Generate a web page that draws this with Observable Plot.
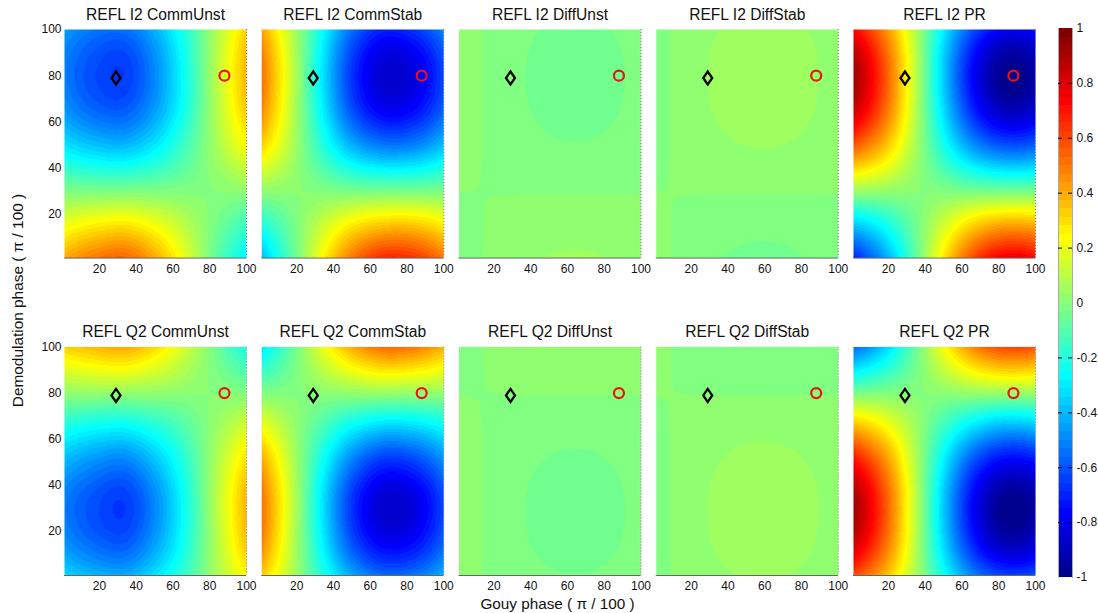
<!DOCTYPE html>
<html>
<head>
<meta charset="utf-8">
<script src="https://cdn.jsdelivr.net/npm/d3@7"></script>
<script src="https://cdn.jsdelivr.net/npm/@observablehq/plot@0.6"></script>
<style>
html,body{margin:0;padding:0;background:#fff}
#chart{position:relative;width:1098px;height:613px;overflow:hidden}
#chart svg{position:absolute;left:0;top:0}
</style>
</head>
<body>
<div id="chart"></div>
<script>
const gouyNodes = [1, 17.5, 34, 50.5, 67, 83.5, 100];
const demodNodes = [100, 83.5, 67, 50.5, 34, 17.5, 1];
const columns = ["CommUnst", "CommStab", "DiffUnst", "DiffStab", "PR"];
const rowNames = ["I2", "Q2"];
const axisTicks = [20, 40, 60, 80, 100];
const barTicks = [-1, -0.8, -0.6, -0.4, -0.2, 0, 0.2, 0.4, 0.6, 0.8, 1];
const barDashes = [-0.8, -0.6, -0.4, -0.2, 0.2, 0.4, 0.6, 0.8];
const diamondPoint = [[29, 79]];
const circlePoint = [[88, 80]];

const i2CommUnst = [
-.45,-.53,-.54,-.41,-.19,.07,.32,
-.52,-.62,-.65,-.49,-.23,.09,.38,
-.48,-.58,-.60,-.46,-.22,.08,.35,
-.32,-.39,-.41,-.31,-.14,.06,.24,
-.08,-.10,-.10,-.08,-.04,.01,.06,
.17,.22,.24,.18,.08,-.03,-.13,
.40,.50,.54,.40,.18,-.08,-.29];
const i2CommStab = [
.41,.09,-.25,-.55,-.70,-.66,-.50,
.51,.12,-.31,-.67,-.85,-.82,-.62,
.48,.11,-.29,-.63,-.80,-.77,-.58,
.33,.08,-.20,-.43,-.54,-.52,-.39,
.08,.02,-.05,-.11,-.13,-.13,-.10,
-.18,-.04,.11,.23,.29,.29,.22,
-.40,-.09,.24,.51,.66,.64,.50];
const i2DiffUnst = [
.0145,-.0044,-.0221,-.0341,-.0373,-.0306,-.0161,
.0182,-.0054,-.0276,-.0427,-.0466,-.0383,-.0201,
.0171,-.0051,-.0260,-.0401,-.0438,-.0360,-.0189,
.0115,-.0036,-.0177,-.0273,-.0298,-.0245,-.0129,
.0027,-.0011,-.0047,-.0071,-.0078,-.0064,-.0035,
-.0068,.0015,.0094,.0147,.0161,.0131,.0067,
-.0147,.0037,.0210,.0327,.0357,.0293,.0151];
const i2DiffStab = [
-.0101,.0114,.0299,.0407,.0409,.0304,.0120,
-.0128,.0142,.0374,.0509,.0512,.0380,.0150,
-.0120,.0133,.0352,.0478,.0481,.0357,.0141,
-.0080,.0091,.0239,.0325,.0327,.0243,.0096,
-.0018,.0025,.0063,.0085,.0085,.0064,.0027,
.0049,-.0046,-.0128,-.0176,-.0177,-.0130,-.0049,
.0105,-.0105,-.0286,-.0390,-.0393,-.0290,-.0111];
const i2PR = [
.73,.47,.10,-.30,-.62,-.78,-.73,
.91,.59,.13,-.38,-.78,-.98,-.92,
.86,.56,.12,-.35,-.73,-.92,-.86,
.58,.38,.08,-.24,-.50,-.62,-.59,
.15,.10,.02,-.06,-.13,-.16,-.15,
-.32,-.21,-.05,.13,.28,.35,.33,
-.71,-.46,-.10,.29,.61,.76,.72];
const q2CommUnst = [
.32,.37,.40,.30,.14,-.05,-.23,
.07,.09,.09,.07,.03,-.01,-.05,
-.19,-.23,-.24,-.18,-.09,.03,.14,
-.40,-.48,-.51,-.38,-.18,.07,.30,
-.52,-.61,-.65,-.49,-.23,.09,.38,
-.49,-.58,-.61,-.46,-.22,.08,.36,
-.33,-.40,-.42,-.31,-.15,.06,.24];
const q2CommStab = [
-.32,-.07,.19,.40,.52,.50,.38,
-.07,-.02,.04,.09,.12,.11,.09,
.19,.04,-.11,-.24,-.31,-.30,-.23,
.41,.09,-.24,-.52,-.67,-.64,-.48,
.51,.12,-.31,-.67,-.85,-.82,-.62,
.49,.11,-.29,-.63,-.80,-.77,-.58,
.33,.08,-.20,-.43,-.55,-.53,-.40];
const q2DiffUnst = [
-.0117,.0029,.0165,.0258,.0282,.0231,.0119,
-.0029,.0004,.0036,.0057,.0063,.0051,.0025,
.0066,-.0022,-.0105,-.0161,-.0176,-.0145,-.0077,
.0143,-.0044,-.0218,-.0337,-.0368,-.0303,-.0159,
.0182,-.0054,-.0276,-.0427,-.0466,-.0383,-.0201,
.0173,-.0052,-.0262,-.0405,-.0443,-.0364,-.0191,
.0117,-.0036,-.0180,-.0277,-.0303,-.0249,-.0131];
const q2DiffStab = [
.0084,-.0082,-.0226,-.0287,-.0289,-.0229,-.0087,
.0021,-.0017,-.0050,-.0069,-.0069,-.0050,-.0018,
-.0046,.0055,.0142,.0192,.0193,.0144,.0058,
-.0100,.0112,.0296,.0402,.0404,.0300,.0118,
-.0128,.0142,.0374,.0509,.0512,.0380,.0150,
-.0121,.0135,.0356,.0483,.0486,.0361,.0142,
-.0081,.0093,.0243,.0330,.0332,.0247,.0098];
const q2PR = [
-.56,-.37,-.08,.23,.48,.60,.57,
-.13,-.08,-.02,.05,.11,.14,.13,
.34,.22,.05,-.14,-.29,-.37,-.34,
.72,.47,.10,-.30,-.62,-.77,-.73,
.91,.59,.13,-.38,-.78,-.98,-.92,
.86,.56,.12,-.36,-.74,-.93,-.87,
.59,.38,.08,-.24,-.51,-.63,-.60];

const panels = [
  ["I2","CommUnst",i2CommUnst],["I2","CommStab",i2CommStab],["I2","DiffUnst",i2DiffUnst],["I2","DiffStab",i2DiffStab],["I2","PR",i2PR],
  ["Q2","CommUnst",q2CommUnst],["Q2","CommStab",q2CommStab],["Q2","DiffUnst",q2DiffUnst],["Q2","DiffStab",q2DiffStab],["Q2","PR",q2PR]
];
const samples = panels.flatMap(([row, col, vals]) =>
  vals.map((v, k) => ({row, col, gouy: gouyNodes[k % 7], demod: demodNodes[Math.floor(k / 7)], v})));
const titles = panels.map(([row, col]) => ({row, col, label: `REFL ${row} ${col}`}));

// MATLAB jet(64) palette
const jet = d3.range(1, 65).map(k => {
  const c = t => Math.round(255 * Math.max(0, Math.min(1, t)));
  const r = c(Math.min((k - 24) / 16, (72 - k) / 16 + 0));
  const g = c(Math.min((k - 8) / 16, (56 - k) / 16));
  const b = c(Math.min((k + 8) / 16, (40 - k) / 16));
  return `rgb(${r},${g},${b})`;
});
const colorScale = {type: "quantize", domain: [-1, 1], range: jet};

// Smooth (Catmull-Rom) rendering of the sampled grid onto the raster
function smoothGrid(index, w, h, X, Y, V) {
  const idx = Array.from(index);
  const xs = [...new Set(idx.map(i => X[i]))].sort((a, b) => a - b);
  const ys = [...new Set(idx.map(i => Y[i]))].sort((a, b) => a - b);
  const nx = xs.length, ny = ys.length;
  const g = d3.range(ny + 2).map(() => new Float64Array(nx + 2));
  for (const i of idx) g[ys.indexOf(Y[i]) + 1][xs.indexOf(X[i]) + 1] = V[i];
  for (let j = 1; j <= ny; ++j) {
    g[j][0] = 3 * g[j][1] - 3 * g[j][2] + g[j][3];
    g[j][nx + 1] = 3 * g[j][nx] - 3 * g[j][nx - 1] + g[j][nx - 2];
  }
  for (let i = 0; i < nx + 2; ++i) {
    g[0][i] = 3 * g[1][i] - 3 * g[2][i] + g[3][i];
    g[ny + 1][i] = 3 * g[ny][i] - 3 * g[ny - 1][i] + g[ny - 2][i];
  }
  const weights = t => [
    0.5 * (-t + 2 * t * t - t * t * t),
    0.5 * (2 - 5 * t * t + 3 * t * t * t),
    0.5 * (t + 4 * t * t - 3 * t * t * t),
    0.5 * (-t * t + t * t * t)
  ];
  const W = new Array(w * h);
  const dx = (xs[nx - 1] - xs[0]) / (nx - 1), dy = (ys[ny - 1] - ys[0]) / (ny - 1);
  for (let py = 0; py < h; ++py) {
    const v = Math.max(0, Math.min(ny - 1 - 1e-9, (py + 0.5 - ys[0]) / dy));
    const j = Math.floor(v), wy = weights(v - j);
    for (let px = 0; px < w; ++px) {
      const u = Math.max(0, Math.min(nx - 1 - 1e-9, (px + 0.5 - xs[0]) / dx));
      const i = Math.floor(u), wx = weights(u - i);
      let s = 0;
      for (let b = 0; b < 4; ++b) for (let a = 0; a < 4; ++a) s += wy[b] * wx[a] * g[j + b][i + a];
      W[py * w + px] = s;
    }
  }
  return W;
}

const diamond = {draw(ctx) {
  ctx.moveTo(0, -6.5); ctx.lineTo(4.5, 0); ctx.lineTo(0, 6.5); ctx.lineTo(-4.5, 0); ctx.closePath();
}};
const font = "'Liberation Sans', Arial, sans-serif";

const main = Plot.plot({
  width: 1098, height: 613,
  marginLeft: 64, marginRight: 63, marginTop: 29, marginBottom: 38,
  style: {fontFamily: font, background: "#fff", color: "#111"},
  x: {domain: [1, 100], axis: null},
  y: {domain: [1, 100], axis: null},
  fx: {domain: columns, axis: null, padding: 0.0773, round: false},
  fy: {domain: rowNames, axis: null, padding: 0.28, round: false},
  color: colorScale,
  marks: [
    Plot.raster(samples, {x: "gouy", y: "demod", fill: "v", fx: "col", fy: "row", interpolate: smoothGrid, pixelSize: 1}),
    Plot.ruleY([1], {stroke: "#666", strokeWidth: 1}),
    Plot.ruleX([100], {stroke: "#777", strokeDasharray: "1,2"}),
    Plot.dot(diamondPoint, {x: d => d[0], y: d => d[1], symbol: diamond, stroke: "#000", strokeWidth: 2.3, fill: "none"}),
    Plot.dot(circlePoint, {x: d => d[0], y: d => d[1], r: 5, stroke: "#ee1111", strokeWidth: 2.2, fill: "none"}),
    Plot.axisX({ticks: axisTicks, tickSize: 0, tickPadding: 6, label: null, fontSize: 12, facetAnchor: null, anchor: "bottom"}),
    Plot.axisY({ticks: axisTicks, tickSize: 0, tickPadding: 3, label: null, fontSize: 12, anchor: "left"}),
    Plot.text(titles, {text: "label", fx: "col", fy: "row", frameAnchor: "top", dy: -21, fontSize: 15.6, fill: "#111"}),
    Plot.text(["Gouy phase ( π / 100 )"], {facet: "super", frameAnchor: "bottom", dx: 7.5, dy: 33, fontSize: 15.3, fill: "#111"}),
    Plot.text(["Demodulation phase ( π / 100 )"], {facet: "super", frameAnchor: "left", textAnchor: "middle", dx: -46, dy: -2, rotate: -90, fontSize: 15.4, fill: "#111"})
  ]
});

const barLevels = jet.map((_, k) => ({lo: -1 + k / 32, hi: -1 + (k + 1) / 32, mid: -1 + (k + 0.5) / 32}));
const bar = Plot.plot({
  width: 1098, height: 613,
  marginLeft: 1058, marginRight: 26, marginTop: 28, marginBottom: 36,
  style: {fontFamily: font, background: "transparent", color: "#111"},
  x: {axis: null},
  y: {domain: [-1, 1], axis: null},
  color: colorScale,
  marks: [
    Plot.rect(barLevels, {y1: "lo", y2: "hi", fill: "mid", shapeRendering: "crispEdges"}),
    Plot.frame({anchor: "left", stroke: "#aaa"}),
    Plot.frame({anchor: "right", stroke: "#aaa"}),
    Plot.ruleY(barDashes, {stroke: "#000", strokeDasharray: "4,6,4"}),
    Plot.axisY({anchor: "right", ticks: barTicks, tickSize: 0, tickPadding: 4, label: null, fontSize: 12, tickFormat: d => String(d)})
  ]
});

const chart = document.getElementById("chart");
chart.append(main, bar);
</script>
</body>
</html>
